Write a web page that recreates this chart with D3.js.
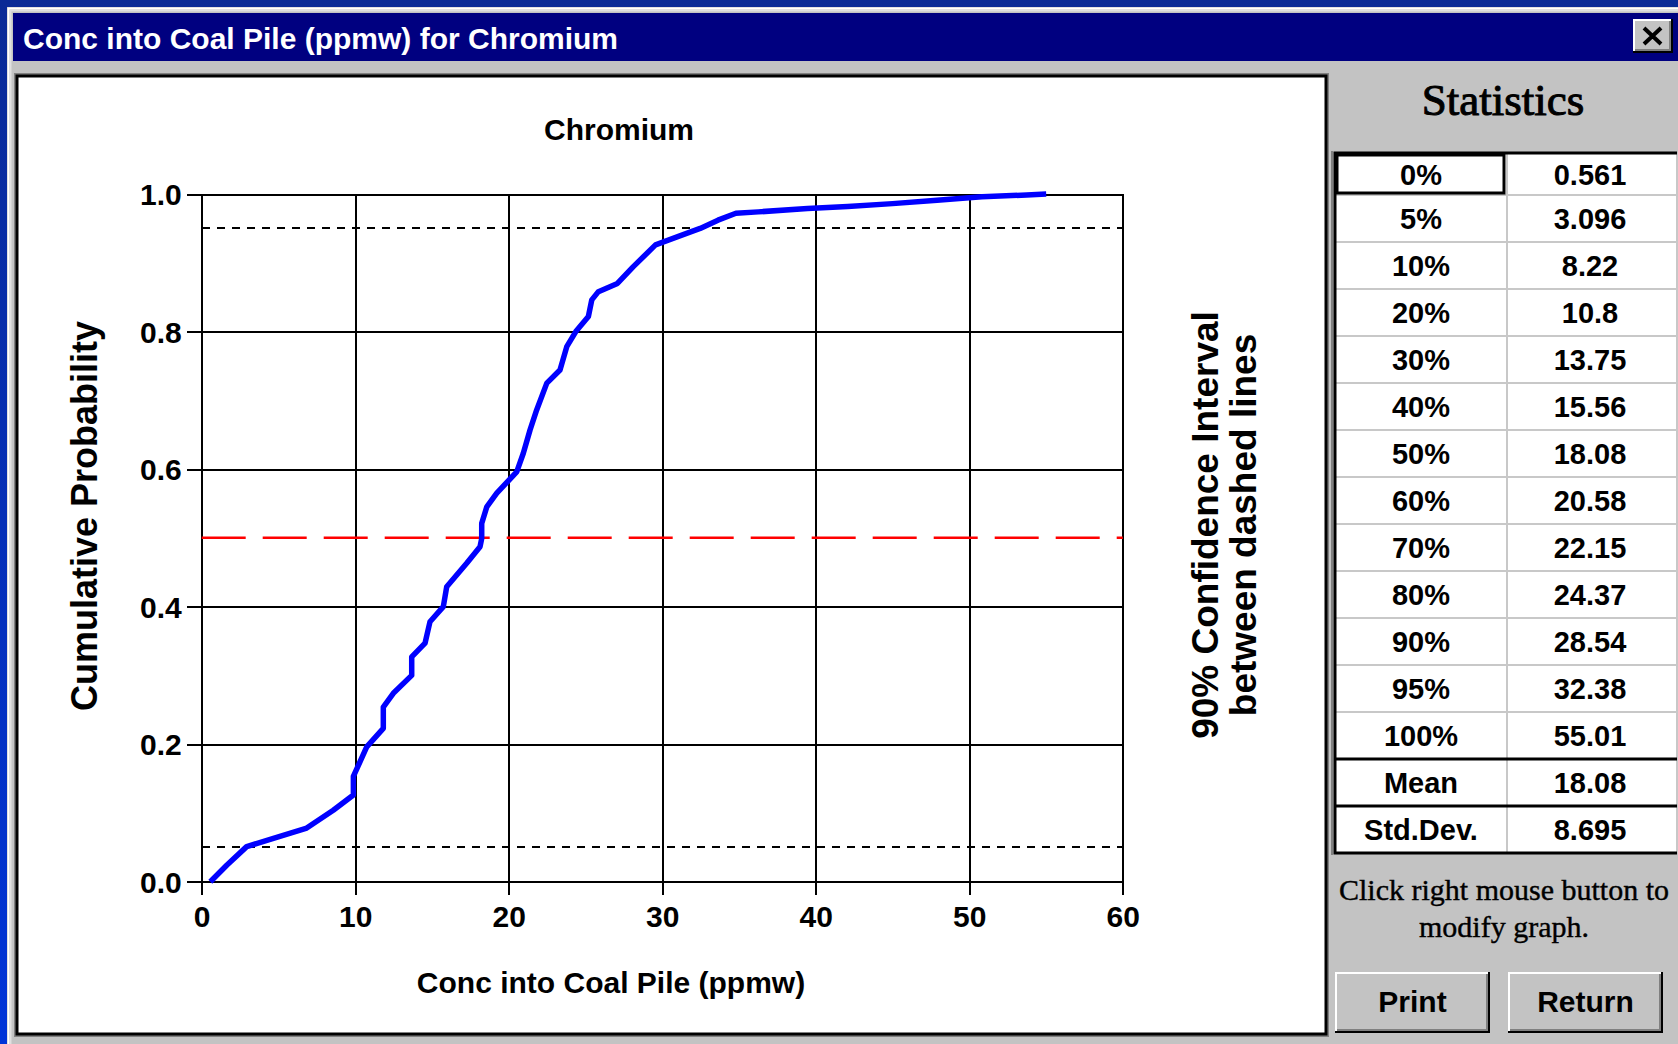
<!DOCTYPE html>
<html lang="en">
<head>
<meta charset="utf-8">
<title>Conc into Coal Pile (ppmw) for Chromium</title>
<script src="https://d3js.org/d3.v7.min.js"></script>
<style>
  body { margin: 0; background: #0a2a98; overflow: hidden; }
  svg { display: block; }
  .sans { font-family: "Liberation Sans", Arial, sans-serif; font-weight: bold; }
  .serif { font-family: "Liberation Serif", "Times New Roman", serif; }
</style>
</head>
<body>
<script>
// cumulative distribution
var concValues = [0.561, 1.63, 2.93, 4.67, 6.84, 8.57, 9.88, 9.88, 10.75, 11.83, 11.83, 12.48,
  13.68, 13.68, 14.55, 14.87, 15.74, 15.96, 17.26, 18.13, 18.24, 18.24, 18.57, 19.22, 20.52,
  20.95, 21.39, 21.82, 22.48, 23.34, 23.78, 24.37, 25.19, 25.41, 25.84, 27.08, 28.10, 29.56,
  31.01, 32.47, 33.63, 34.80, 36.26, 39.46, 42.08, 45.00, 47.90, 50.82, 53.74, 55.01];
var cumProb = [0, 0.024, 0.051, 0.063, 0.078, 0.104, 0.126, 0.153, 0.196, 0.223, 0.254, 0.274,
  0.300, 0.327, 0.347, 0.378, 0.400, 0.429, 0.463, 0.487, 0.499, 0.521, 0.545, 0.565, 0.596,
  0.623, 0.657, 0.686, 0.725, 0.744, 0.778, 0.800, 0.822, 0.846, 0.858, 0.870, 0.894, 0.926,
  0.938, 0.950, 0.962, 0.972, 0.974, 0.979, 0.982, 0.986, 0.991, 0.996, 0.9985, 1.0];

var xTicks = [0, 10, 20, 30, 40, 50, 60];
var yTicks = [0, 0.2, 0.4, 0.6, 0.8, 1.0];
var ciLines = [0.05, 0.95];
var medianLine = 0.5;

var statLabels = ["0%", "5%", "10%", "20%", "30%", "40%", "50%", "60%", "70%", "80%", "90%", "95%", "100%", "Mean", "Std.Dev."];
var statValues = ["0.561", "3.096", "8.22", "10.8", "13.75", "15.56", "18.08", "20.58", "22.15", "24.37", "28.54", "32.38", "55.01", "18.08", "8.695"];

var W = 1678, H = 1044;

var svg = d3.select("body").append("svg")
  .attr("width", W)
  .attr("height", H);

var defs = svg.append("defs");
var grad = defs.append("linearGradient").attr("id", "desk").attr("x1", 0).attr("y1", 0).attr("x2", 0).attr("y2", 1);
grad.append("stop").attr("offset", "0%").attr("stop-color", "#0a2a96");
grad.append("stop").attr("offset", "100%").attr("stop-color", "#0034d8");

// desktop + window frame
svg.append("rect").attr("width", W).attr("height", H).attr("fill", "url(#desk)");
svg.append("rect").attr("x", 7).attr("y", 7).attr("width", W - 7).attr("height", H - 7).attr("fill", "#c3c3c3");
svg.append("path").attr("d", "M8.5," + H + "V8.5H" + W).attr("stroke", "#ffffff").attr("stroke-width", 2).attr("fill", "none");
svg.append("path").attr("d", "M10.5," + H + "V10.5H" + W).attr("stroke", "#e0e0e0").attr("stroke-width", 2).attr("fill", "none");

// title bar
svg.append("rect").attr("x", 13).attr("y", 13).attr("width", W - 13).attr("height", 48).attr("fill", "#000080");
svg.append("text").attr("class", "sans")
  .attr("x", 23).attr("y", 49)
  .attr("fill", "#ffffff")
  .style("font-size", "30px")
  .text("Conc into Coal Pile (ppmw) for Chromium");

// close button
function bevel(g, x, y, w, h) {
  g.append("rect").attr("x", x).attr("y", y).attr("width", w).attr("height", h).attr("fill", "#c3c3c3");
  g.append("path").attr("d", "M" + (x + 1) + "," + (y + h - 1) + "V" + (y + 1) + "H" + (x + w - 1))
    .attr("stroke", "#ffffff").attr("stroke-width", 2).attr("fill", "none");
  g.append("path").attr("d", "M" + x + "," + (y + h - 1) + "H" + (x + w - 1) + "V" + y)
    .attr("stroke", "#000000").attr("stroke-width", 2).attr("fill", "none");
  g.append("path").attr("d", "M" + (x + 2) + "," + (y + h - 3) + "H" + (x + w - 3) + "V" + (y + 2))
    .attr("stroke", "#808080").attr("stroke-width", 2).attr("fill", "none");
}
var closeBtn = svg.append("g");
bevel(closeBtn, 1633, 19, 40, 34);
closeBtn.append("path")
  .attr("d", "M1644,28L1661,44M1661,28L1644,44")
  .attr("stroke", "#000").attr("stroke-width", 4);

// white plot panel
svg.append("rect").attr("x", 15).attr("y", 74).attr("width", 1313).attr("height", 962)
  .attr("fill", "none").attr("stroke", "#808080").attr("stroke-width", 2);
svg.append("rect").attr("x", 17).attr("y", 76).attr("width", 1309).attr("height", 958)
  .attr("fill", "#ffffff").attr("stroke", "#000000").attr("stroke-width", 3);

// scales
var x = d3.scaleLinear().domain([0, 60]).range([201.7, 1122.8]);
var y = d3.scaleLinear().domain([0, 1]).range([881.7, 194]);

var plot = svg.append("g");

// horizontal grid + y labels
var yAxis = d3.axisLeft(y)
  .tickValues(yTicks)
  .tickFormat(d3.format(".1f"))
  .tickSize(x(60) - x(0) + 15)
  .tickSizeOuter(0)
  .tickPadding(5);
var gy = plot.append("g").attr("transform", "translate(" + x(60) + ",0)").call(yAxis);

// vertical grid + x labels
var xAxis = d3.axisBottom(x)
  .tickValues(xTicks)
  .tickSize(y(0) - y(1) + 13)
  .tickSizeOuter(0)
  .tickPadding(11);
var gx = plot.append("g").attr("transform", "translate(0," + y(1) + ")").call(xAxis);

[gx, gy].forEach(function(g) {
  g.selectAll("line, path").attr("stroke", "#000").attr("stroke-width", 2).attr("shape-rendering", "crispEdges");
  g.selectAll("text").attr("class", "sans").style("font-size", "30px").attr("fill", "#000");
});
gy.selectAll("text").attr("dy", "0.36em");
gx.select(".domain").remove();

// confidence interval lines
plot.selectAll(".ci").data(ciLines).enter().append("line")
  .attr("x1", x(0)).attr("x2", x(60))
  .attr("y1", function(d) { return y(d); }).attr("y2", function(d) { return y(d); })
  .attr("stroke", "#000").attr("stroke-width", 2)
  .attr("stroke-dasharray", "8,7")
  .attr("shape-rendering", "crispEdges");

// median line
plot.append("line")
  .attr("x1", x(0)).attr("x2", x(60))
  .attr("y1", y(medianLine)).attr("y2", y(medianLine))
  .attr("stroke", "#ff0000").attr("stroke-width", 2.5)
  .attr("stroke-dasharray", "44,17");

// CDF curve
var pts = concValues.map(function(v, i) { return [v, cumProb[i]]; });
var line = d3.line().x(function(d) { return x(d[0]); }).y(function(d) { return y(d[1]); });
plot.append("path")
  .datum(pts)
  .attr("d", line)
  .attr("fill", "none")
  .attr("stroke", "#0000ff")
  .attr("stroke-width", 5.5)
  .attr("stroke-linejoin", "round");

// titles
svg.append("text").attr("class", "sans")
  .attr("x", 619).attr("y", 140)
  .attr("text-anchor", "middle")
  .style("font-size", "30px")
  .text("Chromium");

svg.append("text").attr("class", "sans")
  .attr("x", 611).attr("y", 993)
  .attr("text-anchor", "middle")
  .style("font-size", "30px")
  .text("Conc into Coal Pile (ppmw)");

svg.append("text").attr("class", "sans")
  .attr("transform", "translate(97,516) rotate(-90)")
  .attr("text-anchor", "middle")
  .style("font-size", "36px")
  .text("Cumulative Probability");

svg.append("text").attr("class", "sans")
  .attr("transform", "translate(1218,525) rotate(-90)")
  .attr("text-anchor", "middle")
  .style("font-size", "37px")
  .text("90% Confidence Interval");

svg.append("text").attr("class", "sans")
  .attr("transform", "translate(1256,525) rotate(-90)")
  .attr("text-anchor", "middle")
  .style("font-size", "37px")
  .text("between dashed lines");

// statistics panel
svg.append("text").attr("class", "serif")
  .attr("x", 1503).attr("y", 115)
  .attr("text-anchor", "middle")
  .attr("stroke", "#000").attr("stroke-width", 1)
  .style("font-size", "45px")
  .text("Statistics");

var colLeft = 1335, colMid = 1507, colRight = 1677;
var rows = d3.scaleBand().domain(statLabels).range([148, 853]);
var tableTop = 153;

var table = svg.append("g");
table.append("rect")
  .attr("x", colLeft).attr("y", tableTop)
  .attr("width", colRight - colLeft).attr("height", rows.range()[1] - tableTop)
  .attr("fill", "#ffffff");

// light row separators
table.selectAll(".sep").data(statLabels.slice(1, 13)).enter().append("line")
  .attr("x1", colLeft).attr("x2", colRight)
  .attr("y1", function(d) { return rows(d); }).attr("y2", function(d) { return rows(d); })
  .attr("stroke", "#c8c8c8").attr("stroke-width", 2);
table.append("line")
  .attr("x1", colMid).attr("x2", colMid).attr("y1", tableTop).attr("y2", rows.range()[1])
  .attr("stroke", "#c8c8c8").attr("stroke-width", 2);
table.append("line")
  .attr("x1", colRight).attr("x2", colRight).attr("y1", tableTop).attr("y2", rows.range()[1])
  .attr("stroke", "#c8c8c8").attr("stroke-width", 2);

// black separators for Mean / Std.Dev.
table.selectAll(".blk").data(["Mean", "Std.Dev."]).enter().append("line")
  .attr("x1", colLeft).attr("x2", colRight)
  .attr("y1", function(d) { return rows(d); }).attr("y2", function(d) { return rows(d); })
  .attr("stroke", "#000").attr("stroke-width", 3);
table.append("path")
  .attr("d", "M" + colRight + "," + rows.range()[1] + "H" + colLeft + "V" + tableTop + "H" + colRight)
  .attr("fill", "none").attr("stroke", "#000").attr("stroke-width", 3);
table.append("line")
  .attr("x1", colLeft - 3).attr("x2", colLeft - 3).attr("y1", tableTop - 2).attr("y2", rows.range()[1] + 2)
  .attr("stroke", "#808080").attr("stroke-width", 2);

// focus box on first cell
table.append("rect")
  .attr("x", colLeft + 2).attr("y", tableTop + 2)
  .attr("width", colMid - colLeft - 5).attr("height", rows(statLabels[1]) - tableTop - 4)
  .attr("fill", "none").attr("stroke", "#000").attr("stroke-width", 3);

table.selectAll(".lab").data(statLabels).enter().append("text")
  .attr("class", "sans")
  .attr("x", (colLeft + colMid) / 2)
  .attr("y", function(d, i) { return (i === 0 ? (tableTop + rows(statLabels[1])) / 2 : rows(d) + rows.bandwidth() / 2) + 10.5; })
  .attr("text-anchor", "middle")
  .style("font-size", "29px")
  .text(function(d) { return d; });

table.selectAll(".val").data(statValues).enter().append("text")
  .attr("class", "sans")
  .attr("x", (colMid + colRight) / 2 - 2)
  .attr("y", function(d, i) { return (i === 0 ? (tableTop + rows(statLabels[1])) / 2 : rows(statLabels[i]) + rows.bandwidth() / 2) + 10.5; })
  .attr("text-anchor", "middle")
  .style("font-size", "29px")
  .text(function(d) { return d; });

// hint text
svg.append("text").attr("class", "serif")
  .attr("x", 1504).attr("y", 900)
  .attr("text-anchor", "middle")
  .attr("stroke", "#000").attr("stroke-width", 0.4)
  .style("font-size", "30px")
  .text("Click right mouse button to");
svg.append("text").attr("class", "serif")
  .attr("x", 1504).attr("y", 937)
  .attr("text-anchor", "middle")
  .attr("stroke", "#000").attr("stroke-width", 0.4)
  .style("font-size", "30px")
  .text("modify graph.");

// buttons
[["Print", 1335], ["Return", 1508]].forEach(function(b) {
  var g = svg.append("g");
  bevel(g, b[1], 972, 155, 61);
  g.append("text").attr("class", "sans")
    .attr("x", b[1] + 155 / 2).attr("y", 1012)
    .attr("text-anchor", "middle")
    .style("font-size", "30px")
    .text(b[0]);
});
</script>
</body>
</html>
